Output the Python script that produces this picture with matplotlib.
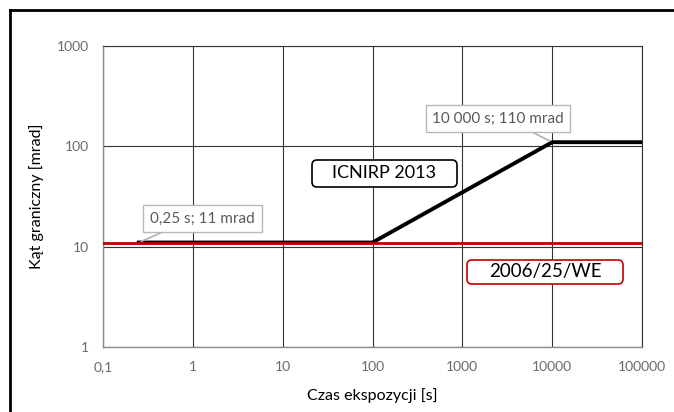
import matplotlib
matplotlib.use('Agg')
import matplotlib.pyplot as plt
from matplotlib.lines import Line2D
from matplotlib.patches import FancyBboxPatch

plt.rcParams['font.family'] = ['Lato', 'DejaVu Sans']

# ICNIRP 2013 limit (s, mrad)
icnirp_t = [0.25, 100, 10000, 100000]
icnirp_v = [11, 11, 110, 110]
# 2006/25/WE limit
we_t = [0.1, 100000]
we_v = [11, 11]

xticks = [0.1, 1, 10, 100, 1000, 10000, 100000]
xlabels = ['0,1', '1', '10', '100', '1000', '10000', '100000']
yticks = [1, 10, 100, 1000]
ylabels = ['1', '10', '100', '1000']

W, H = 674, 412
fig = plt.figure(figsize=(W / 100, H / 100), dpi=100)
ax = fig.add_axes([103 / W, 1 - 347 / H, 539 / W, 301 / H])
ax.set_xscale('log')
ax.set_yscale('log')
ax.set_xlim(0.1, 100000)
ax.set_ylim(1, 1000)

ax.set_xticks(xticks)
ax.set_xticklabels(xlabels)
ax.set_yticks(yticks)
ax.set_yticklabels(ylabels)
ax.minorticks_off()
ax.tick_params(length=0, labelsize=10, labelcolor='#6a6a6a', pad=10)
ax.grid(True, color='#333333', lw=0.8)
for s in ['top', 'right']:
    ax.spines[s].set_color('#333333')
    ax.spines[s].set_linewidth(0.8)
for s in ['left', 'bottom']:
    ax.spines[s].set_color('#8c8c8c')
    ax.spines[s].set_linewidth(1.0)

ax.plot(icnirp_t, icnirp_v, color='black', lw=2.8, zorder=3)
ax.plot(we_t, we_v, color='#c00000', lw=2.0, zorder=4)

ax.set_xlabel('Czas ekspozycji [s]', fontsize=11.5, labelpad=11)
ax.set_ylabel('Kąt graniczny [mrad]', fontsize=11.5, labelpad=9)


def px_box(x0, y0, x1, y1, text, ec, size, color='black', round_box=True, lw=1.2):
    # box given in image pixels (origin top-left)
    bs = 'round,pad=0,rounding_size=5' if round_box else 'square,pad=0'
    patch = FancyBboxPatch((x0, H - y1), x1 - x0, y1 - y0, boxstyle=bs,
                           fc='white', ec=ec, lw=lw, transform=None, zorder=6)
    fig.add_artist(patch)
    fig.text((x0 + x1) / 2 / W, 1 - (y0 + y1) / 2 / H, text, fontsize=size,
             color=color, ha='center', va='center', zorder=7)


# callout leaders
ax.annotate('', xy=(icnirp_t[0], icnirp_v[0]), xytext=(165, H - 231),
            textcoords='figure pixels',
            arrowprops=dict(arrowstyle='-', color='#b0b0b0', lw=1.2), zorder=5)
ax.annotate('', xy=(icnirp_t[2], icnirp_v[2]), xytext=(530, H - 131),
            textcoords='figure pixels',
            arrowprops=dict(arrowstyle='-', color='#b0b0b0', lw=1.2), zorder=5)

px_box(143, 205, 262, 232, '0,25 s; 11 mrad', '#b8b8b8', 11, '#595959', round_box=False, lw=1)
px_box(426, 105, 570, 132, '10 000 s; 110 mrad', '#b8b8b8', 11, '#595959', round_box=False, lw=1)
px_box(312, 160, 457, 187, 'ICNIRP 2013', 'black', 13)
px_box(467, 260, 623, 284, '2006/25/WE', '#c00000', 13.5)

# outer frame (left and top edges only visible)
fig.add_artist(Line2D([10 / W, 10 / W], [0, 1 - 10 / H], color='black', lw=2,
                      transform=fig.transFigure))
fig.add_artist(Line2D([10 / W, 1], [1 - 10 / H, 1 - 10 / H], color='black', lw=2,
                      transform=fig.transFigure))

fig.savefig('out.png', dpi=100)
